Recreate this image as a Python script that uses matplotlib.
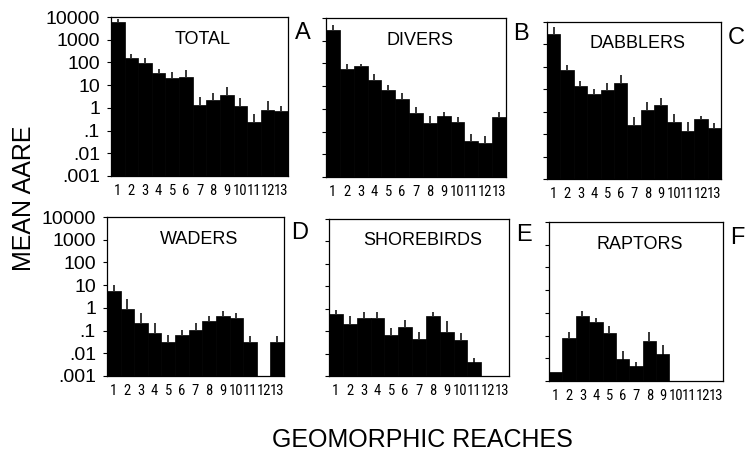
import numpy as np
import matplotlib
matplotlib.use('Agg')
import matplotlib.pyplot as plt

plt.rcParams['font.family'] = ['Liberation Sans', 'DejaVu Sans']

reaches = list(range(1, 14))
reach_labels = [str(r) for r in reaches]

# mean AARE per reach (0 = no birds seen) and top of the error bar
total = [6000, 150, 97, 33, 21, 23, 1.4, 2.2, 3.7, 1.2, 0.24, 0.78, 0.7]
total_up = [8500, 230, 150, 50, 37, 47, 3.1, 4.6, 8, 2.8, 0.52, 2.0, 1.2]
divers = [3100, 56, 74, 18, 6.6, 2.7, 0.66, 0.23, 0.46, 0.26, 0.039, 0.031, 0.42]
divers_up = [5100, 98, 93, 35, 11.5, 4.9, 1.17, 0.49, 0.76, 0.46, 0.079, 0.066, 0.76]
dabblers = [2800, 76, 14, 6.4, 9.1, 19, 0.26, 1.2, 2.0, 0.35, 0.14, 0.49, 0.19]
dabblers_up = [5900, 126, 23, 10.5, 20, 45, 0.6, 2.75, 3.9, 0.83, 0.35, 0.66, 0.3]
waders = [5.6, 0.87, 0.22, 0.076, 0.03, 0.066, 0.11, 0.26, 0.45, 0.36, 0.032, 0, 0.032]
waders_up = [9.8, 2.5, 0.58, 0.22, 0.066, 0.11, 0.21, 0.46, 0.76, 0.62, 0.06, 0, 0.06]
shorebirds = [0.6, 0.2, 0.39, 0.39, 0.066, 0.155, 0.043, 0.45, 0.093, 0.039, 0.0031, 0, 0]
shorebirds_up = [0.91, 0.49, 0.69, 0.69, 0.14, 0.3, 0.091, 0.69, 0.27, 0.085, 0.0066, 0, 0]
raptors = [0.0015, 0.076, 0.74, 0.39, 0.13, 0.008, 0.0036, 0.058, 0.014, 0, 0, 0, 0]
raptors_up = [0, 0.15, 1.15, 0.62, 0.27, 0.021, 0.0066, 0.14, 0.039, 0, 0, 0, 0]

yticks = [10000, 1000, 100, 10, 1, 0.1, 0.01, 0.001]
ytick_labels = ['10000', '1000', '100', '10', '1', '.1', '.01', '.001']

panels = [
    ('TOTAL', 'A', total, total_up),
    ('DIVERS', 'B', divers, divers_up),
    ('DABBLERS', 'C', dabblers, dabblers_up),
    ('WADERS', 'D', waders, waders_up),
    ('SHOREBIRDS', 'E', shorebirds, shorebirds_up),
    ('RAPTORS', 'F', raptors, raptors_up),
]

# axes rectangles in pixels (left, top, right, bottom) as in the scanned figure
W, H = 745, 453
rects = [(111, 17, 288, 176), (326, 18, 506, 177), (547, 22, 721, 179),
         (107, 217, 284, 376), (329, 219, 509, 376), (549, 222, 723, 381)]

narrow = ['Liberation Sans Narrow', 'Roboto Condensed', 'DejaVu Sans']

fig = plt.figure(figsize=(W / 100, H / 100), dpi=100)

for i, (name, letter, vals, ups) in enumerate(panels):
    l, t, r, b = rects[i]
    ax = fig.add_axes([l / W, (H - b) / H, (r - l) / W, (b - t) / H])
    ax.set_yscale('log')
    vals = np.array(vals, dtype=float)
    ups = np.array(ups, dtype=float)
    x = np.array(reaches)
    shown = vals > 0
    ax.bar(x[shown], vals[shown], width=1.0, bottom=0.001, color='black',
           edgecolor='black', linewidth=0.5)
    err = ups > vals
    ax.vlines(x[err], vals[err], ups[err], color='black', linewidth=1.1)
    ax.set_xlim(0.5, 13.5)
    ax.set_ylim(0.001, 10000)
    ax.set_yticks(yticks)
    ax.minorticks_off()
    if i % 3 == 0:
        ax.set_yticklabels(ytick_labels, fontsize=14)
    else:
        ax.set_yticklabels([])
    ax.tick_params(axis='y', direction='out', length=3, width=0.8, pad=5)
    ax.set_xticks(reaches)
    ax.set_xticklabels(reach_labels, fontsize=10.5, family=narrow,
                       fontstretch='condensed')
    ax.tick_params(axis='x', length=0, pad=6)
    for s in ax.spines.values():
        s.set_linewidth(0.9)
    ax.text(0.52, 0.86, name, transform=ax.transAxes, ha='center', va='center',
            fontsize=13)
    ax.text(1.04, 0.97, letter, transform=ax.transAxes, ha='left', va='top',
            fontsize=17)

fig.text(24 / W, 1 - 198 / H, 'MEAN AARE', rotation=90, ha='center',
         va='center', fontsize=18)
fig.text(422 / W, 1 - 440 / H, 'GEOMORPHIC REACHES', ha='center',
         va='center', fontsize=18)

fig.savefig('out.png', dpi=100)
